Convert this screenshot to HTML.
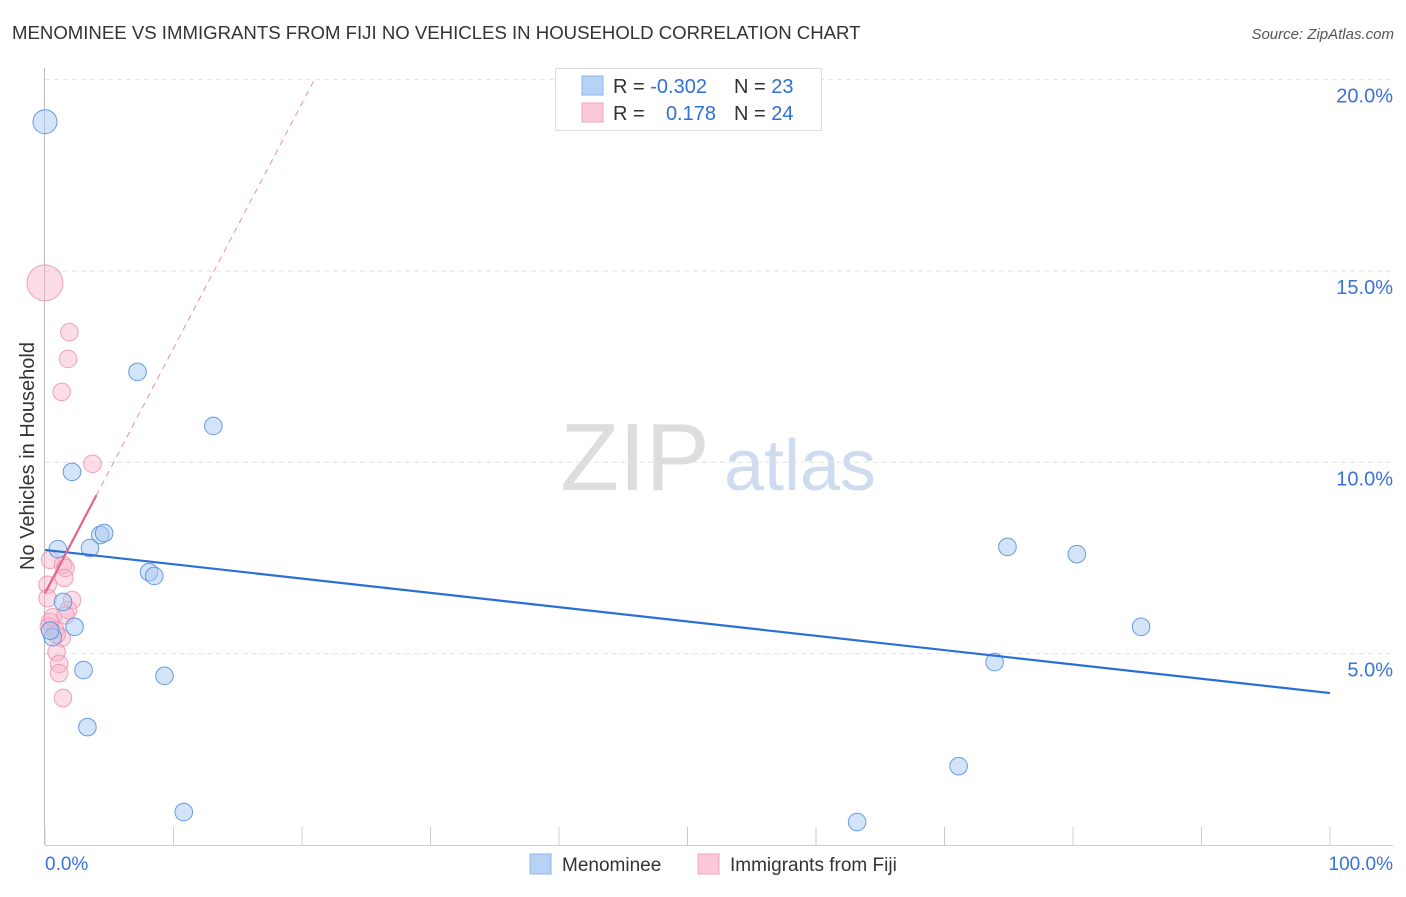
<!DOCTYPE html>
<html><head><meta charset="utf-8"><style>
body{margin:0;background:#fff;font-family:"Liberation Sans",sans-serif;}
svg text{font-family:"Liberation Sans",sans-serif;}
</style></head><body>
<svg width="1406" height="892" xmlns="http://www.w3.org/2000/svg">
<text x="12" y="39" font-size="18.6" fill="#333">MENOMINEE VS IMMIGRANTS FROM FIJI NO VEHICLES IN HOUSEHOLD CORRELATION CHART</text>
<text x="1394" y="39" font-size="15" fill="#555" font-style="italic" text-anchor="end">Source: ZipAtlas.com</text>
<text x="635" y="490" font-size="96" fill="#ddd" font-family="Liberation Serif" text-anchor="middle">ZIP</text>
<text x="800" y="490" font-size="72" fill="#cfdcf0" text-anchor="middle">atlas</text>
<g id="grid"></g>
<g id="axes"></g>
<text x="34" y="456" font-size="20" fill="#333" text-anchor="middle" transform="rotate(-90 34 456)">No Vehicles in Household</text>
<g id="marks"></g>
<g id="lines"></g>
<g>
<rect x="555.5" y="68.5" width="266" height="62" fill="#fff" stroke="#ddd"/>
<rect x="582" y="76" width="21" height="19" fill="#b7d2f4" stroke="#8cb4e8"/>
<rect x="582" y="103" width="21" height="19" fill="#fbc8d7" stroke="#f3a5bd"/>
<text x="613" y="93" font-size="20" fill="#333">R = <tspan fill="#2f6fd6">-0.302</tspan></text>
<text x="734" y="93" font-size="20" fill="#333">N = <tspan fill="#2f6fd6">23</tspan></text>
<text x="613" y="120" font-size="20" fill="#333">R = </text>
<text x="716" y="120" font-size="20" fill="#2f6fd6" text-anchor="end">0.178</text>
<text x="734" y="120" font-size="20" fill="#333">N = <tspan fill="#2f6fd6">24</tspan></text>
</g>
<g>
<rect x="530" y="854" width="21" height="20" fill="#b7d2f4" stroke="#8cb4e8"/>
<text x="562" y="871" font-size="19" fill="#333">Menominee</text>
<rect x="698" y="854" width="21" height="20" fill="#fbc8d7" stroke="#f3a5bd"/>
<text x="730" y="871" font-size="19" fill="#333">Immigrants from Fiji</text>
</g>
</svg>
<script>
const yTicks=[5,10,15,20];
const yTickLabels=["5.0%","10.0%","15.0%","20.0%"];
const xTicks=[0,10,20,30,40,50,60,70,80,90,100];
const xEndLabels=["0.0%","100.0%"];
const blueX=[0,7.2,13.1,2.1,4.3,4.6,1.0,3.5,8.1,8.5,1.4,2.3,0.6,0.4,3.0,9.3,3.3,10.8,63.2,71.1,73.9,74.9,80.3,85.3];
const blueY=[18.9,12.36,10.95,9.75,8.1,8.15,7.73,7.76,7.13,7.03,6.35,5.70,5.43,5.6,4.57,4.42,3.08,0.86,0.6,2.06,4.78,7.79,7.6,5.7];
const pinkX=[0,1.9,1.8,1.3,3.7,0.4,1.4,1.6,1.5,0.2,2.1,0.2,1.8,0.4,0.8,1.3,0.9,1.1,1.1,1.4,0.3,0.6,1.6,0.9];
const pinkY=[14.69,13.4,12.7,11.84,9.96,7.45,7.32,7.24,6.98,6.8,6.4,6.45,6.14,5.83,5.62,5.41,5.04,4.73,4.49,3.84,5.7,5.95,6.0,5.5];
const blueTrend=[7.71,3.97];
const pinkTrend=[6.58,0.64];
const NS="http://www.w3.org/2000/svg";
const X=v=>45+v*12.85, Y=v=>845-v*38.27;
function mk(p,t,a){const e=document.createElementNS(NS,t);for(const k in a)e.setAttribute(k,a[k]);p.appendChild(e);return e;}
const grid=document.getElementById('grid'),axes=document.getElementById('axes'),marks=document.getElementById('marks'),lines=document.getElementById('lines');
yTicks.forEach((t,i)=>{
 const l=mk(grid,'line',{x1:45,x2:1393,y1:Y(t),y2:Y(t),stroke:'#e2e2e2','stroke-dasharray':'5,4'});
 
 
 const tx=mk(axes,'text',{x:1393,y:Y(t)+23,'font-size':20,fill:'#3a72d8','text-anchor':'end'});
 tx.textContent=yTickLabels[i];
 
 
});
const ax=mk(axes,'line',{x1:44.5,x2:44.5,y1:68,y2:845,stroke:'#bbb'});


const bx=mk(axes,'line',{x1:45,x2:1393,y1:845.5,y2:845.5,stroke:'#ccc'});


xTicks.forEach(t=>{
 const l=mk(axes,'line',{x1:X(t),x2:X(t),y1:827,y2:845,stroke:'#ccc'});
 
 
});
[[0,'start'],[100,'end']].forEach((p,i)=>{
 const tx=mk(axes,'text',{x:i?1393:45,y:870,'font-size':19,fill:'#3a72d8','text-anchor':p[1]});
 tx.textContent=xEndLabels[i];
 
 
});
pinkX.forEach((x,i)=>{
 const c=mk(marks,'circle',{cx:X(x),cy:Y(pinkY[i]),r:i==0?18:8.8,fill:'rgba(248,180,202,0.45)',stroke:'rgba(236,140,170,0.8)','stroke-width':1});
 
 
});
blueX.forEach((x,i)=>{
 const c=mk(marks,'circle',{cx:X(x),cy:Y(blueY[i]),r:i==0?12:8.8,fill:'rgba(170,202,242,0.5)',stroke:'rgba(80,140,220,0.85)','stroke-width':1});
 
 
});
const bl=mk(lines,'line',{x1:X(0),y1:Y(blueTrend[0]),x2:X(100),y2:Y(blueTrend[1]),stroke:'#2a6fd6','stroke-width':2.2});


const pEnd=(20-pinkTrend[0])/pinkTrend[1];
const pd=mk(lines,'line',{x1:X(0),y1:Y(pinkTrend[0]),x2:X(pEnd),y2:Y(20),stroke:'#ec8cab','stroke-width':1,'stroke-dasharray':'6,5'});


const ps=mk(lines,'line',{x1:X(0),y1:Y(pinkTrend[0]),x2:X(4),y2:Y(pinkTrend[0]+4*pinkTrend[1]),stroke:'#e8628c','stroke-width':2.2});


</script>
</body></html>
